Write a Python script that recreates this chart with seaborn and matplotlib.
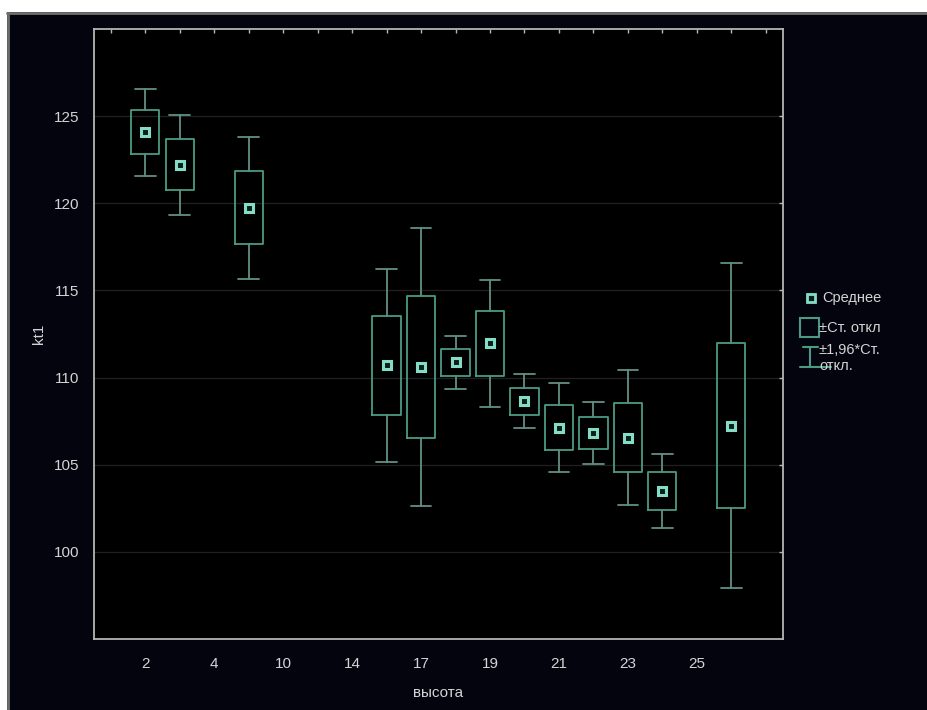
import matplotlib
matplotlib.use("Agg")
import matplotlib.pyplot as plt
import numpy as np
import pandas as pd
import seaborn as sns
from matplotlib.patches import Rectangle
from matplotlib.lines import Line2D
from matplotlib.transforms import Affine2D

# Height levels on the x axis (every second level carries a label)
levels = ["1", "2", "3", "4", "6", "10", "12", "14", "16", "17",
          "18", "19", "20", "21", "22", "23", "24", "25", "26", "27"]
shown_labels = ["2", "4", "10", "14", "17", "19", "21", "23", "25"]

# Groups with data, their means and standard deviations of kt1
groups = ["2", "3", "6", "16", "17", "18", "19", "20", "21", "22", "23", "24", "26"]
means = [124.07, 122.20, 119.75, 110.70, 110.60, 110.88, 111.97,
         108.63, 107.12, 106.82, 106.55, 103.49, 107.25]
sds = [1.27, 1.46, 2.08, 2.83, 4.07, 0.78, 1.86,
       0.79, 1.30, 0.90, 1.97, 1.08, 4.76]

y_ticks = [100, 105, 110, 115, 120, 125]

legend_labels = ["Среднее", "±Ст. откл", "±1,96*Ст.\nоткл."]

BG = "#04040f"
EDGE = "#4b9b83"
WHISK = "#628f84"
MARK = "#84dcc6"
TXT = "#d4d4d4"
SPINE = "#b5b5b5"

sns.set_theme(style="white")
plt.rcParams["font.family"] = ["Liberation Sans", "DejaVu Sans"]

W, H = 928, 710
fig = plt.figure(figsize=(W / 100, H / 100), dpi=100, facecolor=BG)
ax = fig.add_axes([93.6 / W, 1 - 639 / H, (783 - 93.6) / W, (639 - 29) / H])
ax.set_facecolor("black")

df = pd.DataFrame({"высота": groups, "kt1": means, "sd": sds})

# Boxes: mean ± SD, whiskers: mean ± 1.96 SD
stats = []
for m, s in zip(df["kt1"], df["sd"]):
    stats.append(dict(med=m, q1=m - s, q3=m + s,
                      whislo=m - 1.96 * s, whishi=m + 1.96 * s, fliers=[]))
positions = [levels.index(g) for g in df["высота"]]
ax.bxp(stats, positions=positions, widths=0.82, showfliers=False,
       manage_ticks=False, capwidths=0.6,
       boxprops=dict(color=EDGE, lw=1.3),
       whiskerprops=dict(color=WHISK, lw=1.3),
       capprops=dict(color=WHISK, lw=1.3),
       medianprops=dict(visible=False), zorder=3)

# Mean markers on the categorical height axis
sns.pointplot(data=df, x="высота", y="kt1", order=levels, errorbar=None,
              linestyle="none", markers="s", color=MARK, ax=ax,
              markersize=6.3, markerfacecolor="#0b1f1a",
              markeredgecolor=MARK, markeredgewidth=2.2, zorder=4)

ax.set_xlim(-0.5, 19.5)
ax.set_ylim(95, 130)
ax.set_xticks(range(len(levels)))
ax.set_xticklabels([lv if lv in shown_labels else "" for lv in levels])
ax.set_yticks(y_ticks)
ax.set_yticklabels([str(v) for v in y_ticks])
ax.yaxis.grid(True, color="#202020", lw=0.9)
ax.xaxis.grid(False)
ax.set_axisbelow(True)

for sp in ax.spines.values():
    sp.set_visible(True)
    sp.set_color(SPINE)
    sp.set_linewidth(1.3)

ax.tick_params(which="both", direction="in", length=3, width=1, color=SPINE,
               top=True, right=True, labelcolor=TXT, labelsize=11)
ax.tick_params(axis="x", pad=13)
ax.tick_params(axis="y", pad=10)
ax.set_xlabel("высота", color=TXT, fontsize=11, labelpad=11)
ax.set_ylabel("kt1", color=TXT, fontsize=11, labelpad=6)

# Legend drawn in pixel space to the right of the frame
px = Affine2D().scale(1 / W, -1 / H).translate(0, 1) + fig.transFigure
fig.add_artist(Line2D([811], [298], marker="s", markersize=6,
                      markerfacecolor="#0b1f1a", markeredgecolor=MARK,
                      markeredgewidth=2, transform=px))
fig.text(822, 298, legend_labels[0], transform=px, color=TXT,
         fontsize=10.5, va="center", ha="left")
fig.add_artist(Rectangle((800, 318), 19, 19, fill=False, edgecolor=EDGE,
                         lw=1.5, transform=px))
fig.text(819, 328, legend_labels[1], transform=px, color=TXT,
         fontsize=10.5, va="center", ha="left")
fig.add_artist(Line2D([803, 818], [347, 347], color=EDGE, lw=1.5, transform=px))
fig.add_artist(Line2D([810.5, 810.5], [347, 367], color=EDGE, lw=1.5, transform=px))
fig.add_artist(Line2D([800, 831], [367, 367], color=EDGE, lw=1.5, transform=px))
fig.text(819, 358, legend_labels[2], transform=px, color=TXT,
         fontsize=10.5, va="center", ha="left", linespacing=1.15)

# Page edge around the panel
fig.add_artist(Rectangle((0, 0), W, 12, facecolor="white", edgecolor="none",
                         transform=px))
fig.add_artist(Rectangle((0, 0), 7, H, facecolor="white", edgecolor="none",
                         transform=px))
fig.add_artist(Line2D([7, W], [13, 13], color="#6e6e6e", lw=2, transform=px))
fig.add_artist(Line2D([8, 8], [13, H], color="#6e6e6e", lw=2, transform=px))

fig.savefig("out.png", dpi=100, facecolor=BG)
